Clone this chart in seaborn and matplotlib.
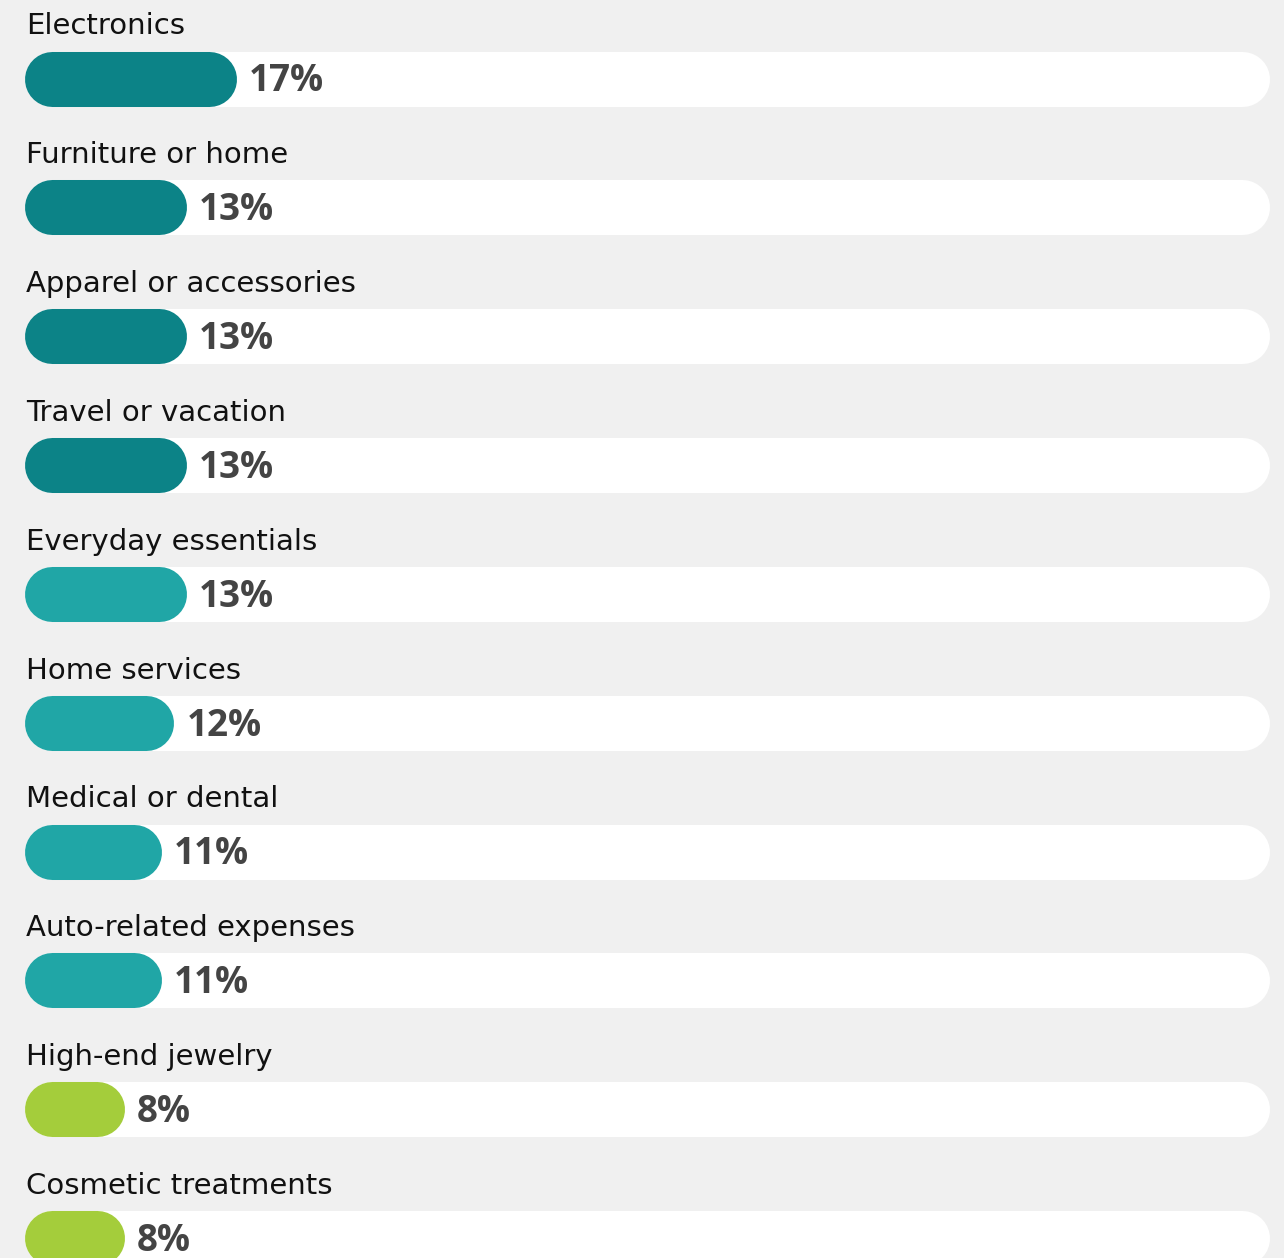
import matplotlib
matplotlib.use("Agg")
import matplotlib.pyplot as plt
import seaborn as sns
import pandas as pd

categories = ["Electronics", "Furniture or home", "Apparel or accessories", "Travel or vacation",
              "Everyday essentials", "Home services", "Medical or dental", "Auto-related expenses",
              "High-end jewelry", "Cosmetic treatments"]
values = [17, 13, 13, 13, 13, 12, 11, 11, 8, 8]
bar_colors = ["#0c8387", "#0c8387", "#0c8387", "#0c8387", "#20a6a6", "#20a6a6",
              "#20a6a6", "#20a6a6", "#a4cd3b", "#a4cd3b"]
track_total = 100

sns.set_theme(style="white")
plt.rcParams["font.family"] = ["Open Sans", "DejaVu Sans"]

W, H = 1284, 1258
DPI = 100
fig = plt.figure(figsize=(W / DPI, H / DPI), dpi=DPI, facecolor="#f0f0f0")
ax = fig.add_axes([0, 0, 1, 1])
ax.set_facecolor("#f0f0f0")

df = pd.DataFrame({"category": categories, "value": values,
                   "track": [track_total] * len(categories)})
bar_h = 0.427
sns.barplot(data=df, x="track", y="category", orient="h", color="white",
            width=bar_h, ax=ax, saturation=1)
n_track = len(ax.patches)
sns.barplot(data=df, x="value", y="category", orient="h", hue="category",
            palette=bar_colors, width=bar_h, ax=ax, legend=False, saturation=1)

px_per_x = 12.45
x0_px = 24.5
xmin = -x0_px / px_per_x
xmax = xmin + W / px_per_x
row_px = 128.85
c0_px = 78.5
ytop = -c0_px / row_px
ybot = ytop + H / row_px
ax.set_xlim(xmin, xmax)
ax.set_ylim(ybot, ytop)
ax.axis("off")

# replace rectangles by pills: thick lines with round caps
patches = list(ax.patches)
for k, p in enumerate(patches):
    x, y = p.get_x(), p.get_y()
    w, h = p.get_width(), p.get_height()
    fc = p.get_facecolor()
    p.remove()
    h_px = h * row_px
    rx = (h_px / 2) / px_per_x
    yc = y + h / 2
    ax.plot([x + rx, x + w - rx], [yc, yc], color=fc, lw=h_px * 72 / DPI,
            solid_capstyle="round", zorder=1 if k < n_track else 2)

for i, (cat, v) in enumerate(zip(categories, values)):
    ax.text(0.1, i - 0.405, cat, va="center", ha="left", fontsize=21, color="#111111",
            family=["DejaVu Sans"])
    ax.annotate(f"{v}%", xy=(v, i), xytext=(9, -2), textcoords="offset points",
                va="center", ha="left", fontsize=26.5, fontweight="bold", color="#444444",
                zorder=3)

fig.savefig("out.png", dpi=DPI, facecolor="#f0f0f0")
